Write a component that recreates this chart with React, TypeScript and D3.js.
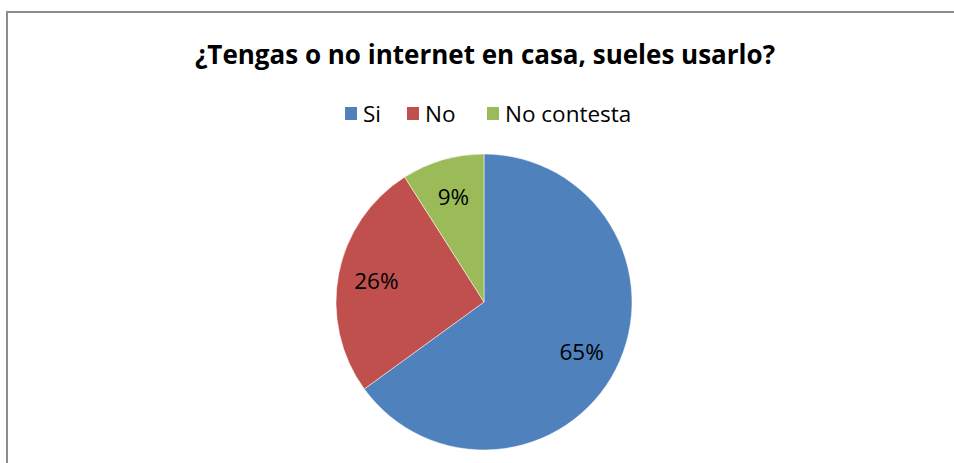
import React, { useEffect, useRef } from "react";
import * as d3 from "d3";

const categories = ["Si", "No", "No contesta"];
const values = [65, 26, 9];
const colors = ["#4F81BD", "#C0504D", "#9BBB59"];
const title = "¿Tengas o no internet en casa, sueles usarlo?";

const width = 954;
const height = 463;
const font = "'Open Sans', 'Noto Sans', sans-serif";

const App: React.FC = () => {
    const svgRef = useRef<SVGSVGElement | null>(null);

    useEffect(() => {
        if (!svgRef.current) return;
        const svg = d3.select(svgRef.current);
        svg.selectAll("*").remove();

        // chart frame (right and bottom edges fall outside the image)
        svg.append("rect")
            .attr("x", 7)
            .attr("y", 12)
            .attr("width", width + 20)
            .attr("height", height + 20)
            .attr("fill", "white")
            .attr("stroke", "#8c8c8c")
            .attr("stroke-width", 2);

        svg.append("text")
            .attr("x", 485)
            .attr("y", 64)
            .attr("text-anchor", "middle")
            .attr("font-family", font)
            .attr("font-weight", "bold")
            .attr("font-size", 26)
            .attr("fill", "#000")
            .text(title);

        // legend
        const legendX = [345, 407, 487];
        const legend = svg.append("g");
        categories.forEach((c, i) => {
            legend.append("rect")
                .attr("x", legendX[i])
                .attr("y", 107)
                .attr("width", 12)
                .attr("height", 13)
                .attr("fill", colors[i]);
            legend.append("text")
                .attr("x", legendX[i] + 18)
                .attr("y", 122)
                .attr("font-family", font)
                .attr("font-size", 22.5)
                .attr("fill", "#000")
                .text(c);
        });

        const cx = 484;
        const cy = 302;
        const r = 148;

        const pie = d3.pie<number>().sort(null).value((d) => d);
        const arcs = pie(values);
        const arc = d3.arc<d3.PieArcDatum<number>>().innerRadius(0).outerRadius(r);
        const labelArc = d3
            .arc<d3.PieArcDatum<number>>()
            .innerRadius(r * 0.74)
            .outerRadius(r * 0.74);

        const total = d3.sum(values);
        const g = svg.append("g").attr("transform", `translate(${cx},${cy})`);

        g.selectAll("path")
            .data(arcs)
            .join("path")
            .attr("d", arc)
            .attr("fill", (_, i) => colors[i])
            .attr("stroke", "white")
            .attr("stroke-width", 0.5);

        g.selectAll("text")
            .data(arcs)
            .join("text")
            .attr("transform", (d) => `translate(${labelArc.centroid(d)})`)
            .attr("text-anchor", "middle")
            .attr("dy", "0.35em")
            .attr("font-family", font)
            .attr("font-size", 22.5)
            .attr("fill", "#000")
            .text((d) => `${Math.round((d.data / total) * 100)}%`);
    }, []);

    return (
        <svg
            ref={svgRef}
            width={width}
            height={height}
            style={{ position: "absolute", left: 0, top: 0, background: "white" }}
        ></svg>
    );
};

export default App;
